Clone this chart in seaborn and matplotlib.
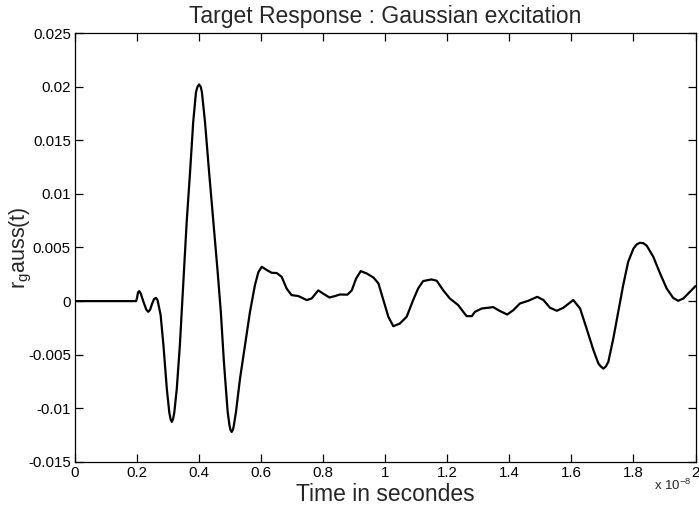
import matplotlib
matplotlib.use("Agg")
import matplotlib.pyplot as plt
import seaborn as sns
import pandas as pd

# Time axis in units of 1e-8 s, response amplitude r_gauss(t)
time_e8 = [
    0.000, 0.197, 0.200, 0.203, 0.207, 0.212, 0.221, 0.230, 0.236, 0.242,
    0.249, 0.255, 0.261, 0.266, 0.276, 0.285, 0.296, 0.304, 0.308, 0.312,
    0.316, 0.320, 0.328, 0.338, 0.346, 0.351, 0.360, 0.371, 0.381, 0.390,
    0.395, 0.400, 0.405, 0.409, 0.419, 0.432, 0.446, 0.459, 0.470, 0.480,
    0.492, 0.498, 0.501, 0.505, 0.509, 0.512, 0.519, 0.532, 0.548, 0.564,
    0.580, 0.591, 0.602, 0.618, 0.634, 0.650, 0.666, 0.682, 0.698, 0.720,
    0.747, 0.763, 0.784, 0.800, 0.820, 0.838, 0.854, 0.878, 0.892, 0.906,
    0.921, 0.940, 0.962, 0.978, 0.994, 1.010, 1.026, 1.047, 1.069, 1.090,
    1.106, 1.122, 1.149, 1.166, 1.187, 1.208, 1.235, 1.262, 1.279, 1.289,
    1.311, 1.348, 1.370, 1.393, 1.413, 1.434, 1.461, 1.490, 1.510, 1.531,
    1.553, 1.574, 1.606, 1.628, 1.649, 1.671, 1.687, 1.695, 1.703, 1.711,
    1.719, 1.735, 1.751, 1.767, 1.783, 1.800, 1.811, 1.821, 1.832, 1.843,
    1.864, 1.886, 1.907, 1.928, 1.944, 1.961, 1.982, 2.000,
]
response = [
    0.0, 0.0, 0.0003, 0.0008, 0.00093, 0.0007, -0.0001, -0.0008, -0.001, -0.0008,
    -0.0002, 0.0002, 0.0003, 0.0001, -0.0013, -0.0041, -0.0082, -0.0104, -0.0110, -0.01126,
    -0.0110, -0.0104, -0.0082, -0.0041, 0.0, 0.0027, 0.0074, 0.0121, 0.0167, 0.0195,
    0.0200, 0.0202, 0.0200, 0.0195, 0.0167, 0.0121, 0.0074, 0.0030, -0.001, -0.0057,
    -0.0103, -0.0116, -0.0120, -0.0122, -0.0120, -0.0116, -0.0103, -0.0072, -0.0041, -0.001,
    0.0015, 0.0027, 0.0032, 0.0029, 0.00264, 0.00262, 0.00227, 0.00118, 0.00056, 0.00047,
    0.0001, 0.00025, 0.001, 0.0007, 0.00034, 0.00047, 0.00062, 0.0006, 0.001, 0.0021,
    0.0028, 0.00258, 0.0022, 0.00165, 0.0001, -0.00146, -0.00234, -0.00209, -0.00146, 0.0001,
    0.00118, 0.00187, 0.00202, 0.0019, 0.001, 0.00025, -0.00037, -0.0014, -0.0014, -0.001,
    -0.00069, -0.00056, -0.00093, -0.00125, -0.00084, -0.00022, 0.00003, 0.0004, 0.0001, -0.00062,
    -0.0009, -0.00062, 0.0001, -0.00069, -0.00256, -0.00457, -0.00582, -0.0061, -0.00629, -0.0061,
    -0.00566, -0.00349, -0.001, 0.0015, 0.00367, 0.0049, 0.0053, 0.00544, 0.0054, 0.00516,
    0.00413, 0.00257, 0.00118, 0.0003, 0.00003, 0.00025, 0.00087, 0.0014,
]

x_ticks = [0, 0.2, 0.4, 0.6, 0.8, 1, 1.2, 1.4, 1.6, 1.8, 2]
x_tick_labels = ["0", "0.2", "0.4", "0.6", "0.8", "1", "1.2", "1.4", "1.6", "1.8", "2"]
y_ticks = [-0.015, -0.01, -0.005, 0, 0.005, 0.01, 0.015, 0.02, 0.025]
y_tick_labels = ["-0.015", "-0.01", "-0.005", "0", "0.005", "0.01", "0.015", "0.02", "0.025"]

sns.set_style("white")
plt.rcParams["font.family"] = ["Liberation Sans", "DejaVu Sans"]
plt.rcParams["mathtext.default"] = "regular"

df = pd.DataFrame({"t": time_e8, "r": response})

fig = plt.figure(figsize=(6.99, 5.08), dpi=100)
ax = fig.add_axes([0.1073, 0.0906, 0.8877, 0.8444])

sns.lineplot(data=df, x="t", y="r", ax=ax, color="black", linewidth=1.6,
             sort=False, estimator=None)

ax.set_xlim(0, 2)
ax.set_ylim(-0.015, 0.025)
ax.set_xticks(x_ticks)
ax.set_xticklabels(x_tick_labels)
ax.set_yticks(y_ticks)
ax.set_yticklabels(y_tick_labels)

ax.tick_params(direction="in", length=5.5, width=0.9, colors="black",
               labelsize=10.8, top=True, right=True, bottom=True, left=True, pad=3)
for side in ("top", "right", "bottom", "left"):
    ax.spines[side].set_visible(True)
    ax.spines[side].set_color("black")
    ax.spines[side].set_linewidth(0.9)

ax.set_title("Target Response : Gaussian excitation", fontsize=16.5, pad=7)
ax.set_xlabel("Time in secondes", fontsize=16.5, labelpad=2)
ax.set_ylabel(r"$r_{g}auss(t)$", fontsize=15.5, labelpad=-4)

ax.text(0.994, -0.037, r"x 10$^{-8}$", transform=ax.transAxes,
        ha="right", va="top", fontsize=9.5)

fig.savefig("out.png", dpi=100)
